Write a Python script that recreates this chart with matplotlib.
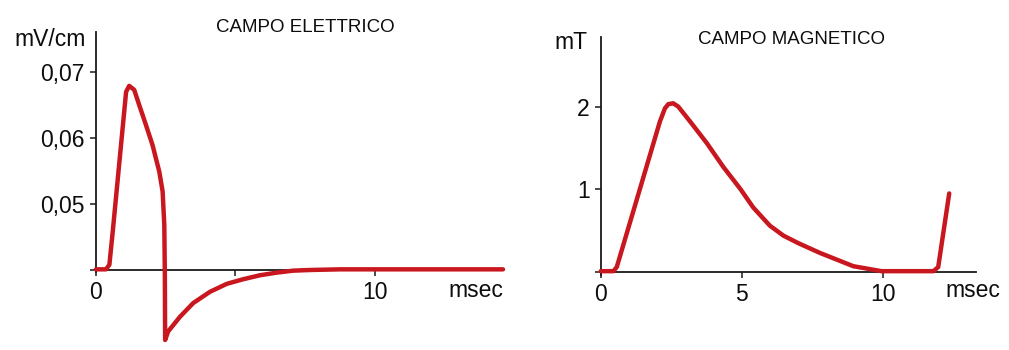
import matplotlib
matplotlib.use("Agg")
import matplotlib.pyplot as plt

plt.rcParams['font.family'] = ['Liberation Sans', 'DejaVu Sans']

# ---------------- data ----------------
# Electric field (mV/cm) vs time (msec)
e_time = [0, 0.36, 0.48, 0.60, 0.84, 1.08, 1.19, 1.37, 1.55, 1.79, 2.03, 2.27,
          2.39, 2.45, 2.47, 2.48, 2.59, 3.01, 3.49, 4.09, 4.69, 5.28, 5.88,
          6.48, 7.07, 7.67, 8.75, 10.5, 14.6]
e_value = [0.0401, 0.0401, 0.0408, 0.0458, 0.0564, 0.0670, 0.0679, 0.0673,
           0.0650, 0.0620, 0.0589, 0.0549, 0.0519, 0.0468, 0.0392, 0.0294,
           0.0307, 0.0329, 0.0350, 0.0367, 0.0379, 0.0386, 0.0392, 0.0396,
           0.0399, 0.0400, 0.0401, 0.0401, 0.0401]
e_yticks = [0.04, 0.05, 0.06, 0.07]
e_yticklabels = ['', '0,05', '0,06', '0,07']
e_xticks = [0, 5, 10]
e_xticklabels = ['0', '', '10']

# Magnetic field (mT) vs time (msec)
m_time = [0, 0.45, 0.57, 2.10, 2.28, 2.40, 2.57, 2.75, 3.17, 3.76, 4.35,
          4.94, 5.41, 6.0, 6.48, 7.0, 7.78, 8.96, 9.96, 11.8, 11.97, 12.36]
m_value = [0.01, 0.01, 0.06, 1.82, 1.98, 2.03, 2.04, 2.00, 1.82, 1.56, 1.27,
           1.01, 0.78, 0.56, 0.44, 0.35, 0.23, 0.07, 0.01, 0.01, 0.06, 0.95]
m_yticks = [0, 1, 2]
m_yticklabels = ['', '1', '2']
m_xticks = [0, 5, 10]
m_xticklabels = ['0', '5', '10']

titles = ['CAMPO ELETTRICO', 'CAMPO MAGNETICO']
units_y = ['mV/cm', 'mT']
unit_x = 'msec'

# ---------------- layout ----------------
W, H = 1009, 350
fig = plt.figure(figsize=(W / 100, H / 100), dpi=100)

def rect(x0, y_top, x1, y_bot):
    return [x0 / W, 1 - y_bot / H, (x1 - x0) / W, (y_bot - y_top) / H]

def fx(px):
    return px / W

def fy(py):
    return 1 - py / H

RED = '#c8171e'
AX = '#1a1a1a'
TXT = '#0d0d0d'
TICK_FS = 16.5
LAB_FS = 16.5
TITLE_FS = 13.5
LW = 3.2

def style(ax):
    for s in ['top', 'right']:
        ax.spines[s].set_visible(False)
    for s in ['left', 'bottom']:
        ax.spines[s].set_color(AX)
        ax.spines[s].set_linewidth(1.3)
    ax.tick_params(axis='both', direction='out', length=4, width=1.1,
                   color=AX, labelsize=TICK_FS, labelcolor=TXT, pad=4)
    ax.patch.set_alpha(0)

# Left panel
ax1 = fig.add_axes(rect(96, 32, 503, 350))
ax1.set_xlim(0, 14.6)
ax1.set_ylim(0.04 - 80 / 6600, 0.04 + 238 / 6600)
ax1.spines['bottom'].set_position(('data', 0.04))
ax1.spines['left'].set_bounds(0.04 - 2 / 6600, 0.04 + 238 / 6600)
style(ax1)
ax1.set_xticks(e_xticks)
ax1.set_xticklabels(e_xticklabels)
ax1.set_yticks(e_yticks)
ax1.set_yticklabels(e_yticklabels)
ax1.plot(e_time, e_value, color=RED, lw=LW, solid_joinstyle='round',
         solid_capstyle='round', clip_on=False, zorder=3)

# Right panel
ax2 = fig.add_axes(rect(600.7, 37.3, 976, 350))
ax2.set_xlim(0, 13.31)
ax2.set_ylim((272 - 350) / 82.7, (272 - 37.3) / 82.7)
ax2.spines['bottom'].set_position(('data', 0))
ax2.spines['left'].set_bounds(-3 / 82.7, (272 - 37.3) / 82.7)
style(ax2)
ax2.set_xticks(m_xticks)
ax2.set_xticklabels(m_xticklabels)
ax2.set_yticks(m_yticks)
ax2.set_yticklabels(m_yticklabels)
ax2.plot(m_time, m_value, color=RED, lw=LW, solid_joinstyle='round',
         solid_capstyle='round', clip_on=False, zorder=3)

# Titles and unit labels
fig.text(fx(305), fy(27), titles[0], ha='center', va='center',
         fontsize=TITLE_FS, color=TXT)
fig.text(fx(791), fy(39.5), titles[1], ha='center', va='center',
         fontsize=TITLE_FS, color=TXT)
fig.text(fx(86), fy(46), units_y[0], ha='right', va='baseline',
         fontsize=LAB_FS, color=TXT)
fig.text(fx(587), fy(49), units_y[1], ha='right', va='baseline',
         fontsize=LAB_FS, color=TXT)
fig.text(fx(448), fy(297), unit_x, ha='left', va='baseline',
         fontsize=LAB_FS, color=TXT)
fig.text(fx(945), fy(297), unit_x, ha='left', va='baseline',
         fontsize=LAB_FS, color=TXT)

fig.savefig('out.png', dpi=100, facecolor='white')
